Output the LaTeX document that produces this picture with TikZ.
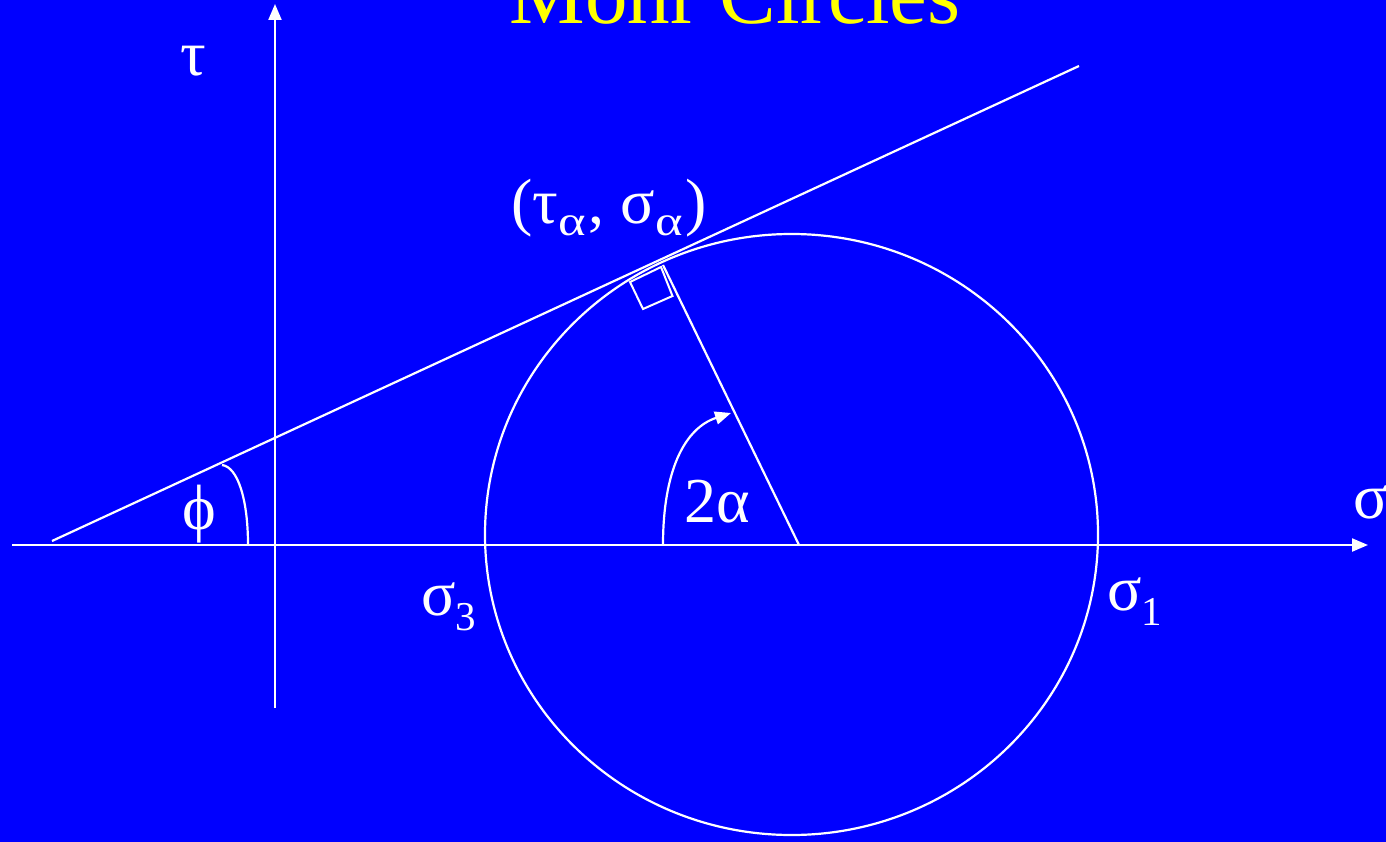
\documentclass[tikz,border=0pt]{standalone}
\usepackage{fontspec}
\setmainfont{Liberation Serif}
\usetikzlibrary{arrows.meta}
\definecolor{bg}{RGB}{0,0,255}
\definecolor{ttl}{RGB}{255,255,0}
\newcommand\lowsub[2]{\raisebox{#1}{\fontsize{41}{41}\selectfont #2}}
\newcommand\wsub[1]{\raisebox{-12pt}{\fontsize{42}{42}\selectfont\scalebox{1.25}[1]{#1}}\hspace{3pt}}
\begin{document}
\begin{tikzpicture}[x=1pt,y=-1pt,
  geo/.style={draw=white, line width=2.2pt},
  lbl/.style={text=white, inner sep=0pt, font=\fontsize{64}{70}\selectfont},
  tip/.style={-{Triangle[length=16pt,width=13pt]}}]
\fill[bg] (0,0) rectangle (1386,842);
\useasboundingbox (0,0) rectangle (1386,842);
% key points
\coordinate (xs) at (12,545);
\coordinate (xe) at (1368,545);
\coordinate (ys) at (275,708);
\coordinate (ye) at (275,4);
\coordinate (ta) at (52,541);
\coordinate (tb) at (1079,66);
\coordinate (C) at (791.5,534.5);
\coordinate (rT) at (663,265);
\coordinate (rB) at (799,545);
\coordinate (phiA) at (222,465);
\coordinate (phiB) at (248,545);
\coordinate (aA) at (663,545);
\coordinate (aB) at (731,413);
\coordinate (q1) at (630,282);
\coordinate (q2) at (661,267);
\coordinate (q3) at (672.5,296);
\coordinate (q4) at (643,309);
% axes
\draw[geo, tip] (xs) -- (xe);
\draw[geo, tip] (ys) -- (ye);
% tangent line
\draw[geo] (ta) -- (tb);
% circle
\draw[geo] (C) ellipse [x radius=306.5pt, y radius=300.5pt];
% radius
\draw[geo] (rT) -- (rB);
% right angle box
\draw[geo, line width=2pt] (q1) -- (q2) -- (q3) -- (q4) -- cycle;
% phi arc
\draw[geo] (phiA) .. controls (238,467) and (248,500) .. (phiB);
% 2alpha arc
\draw[geo, tip] (aA) .. controls (663,470) and (685,428) .. (aB);
% labels
\node[text=ttl, inner sep=0pt, anchor=base, font=\fontsize{85}{90}\selectfont] (title) at (735,24) {Mohr Circles};
\node[lbl, anchor=base west] (tau) at (180,76) {τ};
\node[lbl, anchor=base west] (pt) at (511,224) {(τ\wsub{α}, σ\wsub{α})};
\node[lbl, anchor=base west] (twoa) at (684,522) {2α};
\node[lbl] (phi) at (199,514) {ϕ};
\node[lbl, anchor=base west] (sig) at (1353,518) {σ};
\node[lbl, anchor=base west] (s3) at (421,615) {σ\lowsub{-15pt}{3}};
\node[lbl, anchor=base west] (s1) at (1107,610) {σ\lowsub{-15pt}{1}};
\end{tikzpicture}
\end{document}
